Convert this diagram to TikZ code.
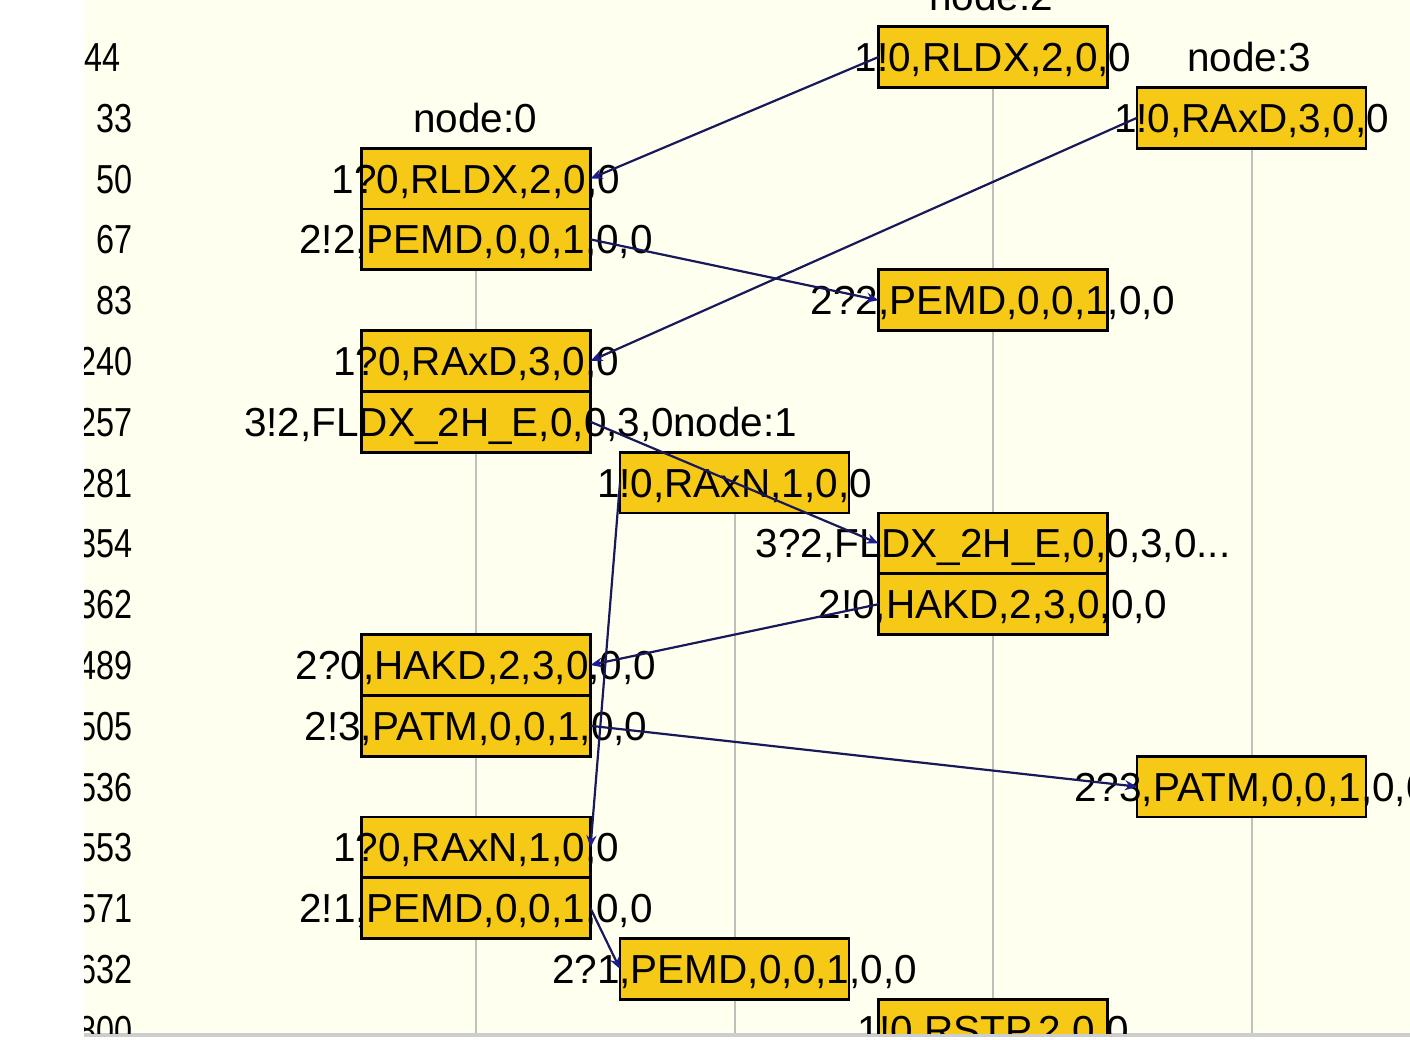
\documentclass[tikz,border=0pt]{standalone}
\usepackage{fontspec}
\setmainfont{Liberation Sans}
\newfontfamily\rowfont[FakeStretch=0.8]{Liberation Sans}
\usetikzlibrary{arrows.meta}

\definecolor{paper}{RGB}{255,255,240}
\definecolor{msgfill}{RGB}{246,201,22}
\definecolor{lifegray}{RGB}{192,192,186}
\definecolor{msgline}{RGB}{24,24,90}
\definecolor{msgtip}{RGB}{28,28,150}
\definecolor{edgegray}{RGB}{205,205,205}

% one message cell on a lifeline: box plus its centred caption
\newcommand\msgcell[4]{%
  \node[msgbox] (#1) at (#2,#3) {};
  \node[caption] (#1-t) at (#1.center) {#4};}

\begin{document}
\begin{tikzpicture}[x=1pt,y=-1pt,
  msgbox/.style={draw=black, line width=2.8pt, fill=msgfill,
    minimum width=229pt, minimum height=60.8pt, inner sep=0pt, outer sep=0pt},
  caption/.style={inner sep=0pt, text height=29pt, text depth=0pt,
    font=\fontsize{40.5}{40.5}\selectfont},
  rowno/.style={inner sep=0pt, text height=29pt, text depth=0pt, anchor=east,
    font=\rowfont\fontsize{40.5}{40.5}\selectfont},
  lifeline/.style={draw=lifegray, line width=2pt},
  signal/.style={draw=msgline, line width=2.2pt,
    -{Stealth[length=12pt,width=10pt,color=msgtip]}},
]
\useasboundingbox (0,0) rectangle (1410,1040);
\fill[white] (0,0) rectangle (1410,1040);
\fill[paper] (84,0) rectangle (1410,1033);
\fill[edgegray] (84,1033) rectangle (1410,1037);

\begin{scope}
\clip (84,0) rectangle (1410,1033);

% lifelines
\coordinate (l0-top) at (476,178.6);  \coordinate (l0-bot) at (476,1033);
\coordinate (l1-top) at (734.5,482.6); \coordinate (l1-bot) at (734.5,1033);
\coordinate (l2-top) at (993,57);     \coordinate (l2-bot) at (993,1033);
\coordinate (l3-top) at (1251.5,117.8); \coordinate (l3-bot) at (1251.5,1033);
\draw[lifeline] (l0-top) -- (l0-bot);
\draw[lifeline] (l1-top) -- (l1-bot);
\draw[lifeline] (l2-top) -- (l2-bot);
\draw[lifeline] (l3-top) -- (l3-bot);

% row numbers
\node[rowno] (r0)  at (121,57)     {44};
\node[rowno] (r1)  at (133,117.8)  {33};
\node[rowno] (r2)  at (133,178.6)  {50};
\node[rowno] (r3)  at (133,239.4)  {67};
\node[rowno] (r4)  at (133,300.2)  {83};
\node[rowno] (r5)  at (133,361)    {240};
\node[rowno] (r6)  at (133,421.8)  {257};
\node[rowno] (r7)  at (133,482.6)  {281};
\node[rowno] (r8)  at (133,543.4)  {354};
\node[rowno] (r9)  at (133,604.2)  {362};
\node[rowno] (r10) at (133,665)    {489};
\node[rowno] (r11) at (133,725.8)  {505};
\node[rowno] (r12) at (133,786.6)  {536};
\node[rowno] (r13) at (133,847.4)  {553};
\node[rowno] (r14) at (133,908.2)  {571};
\node[rowno] (r15) at (133,969)    {632};
\node[rowno] (r16) at (133,1029.8) {800};

% node:0
\msgcell{a2}{476}{178.6}{1?0,RLDX,2,0,0}
\msgcell{a3}{476}{239.4}{2!2,PEMD,0,0,1,0,0}
\msgcell{a5}{476}{361}{1?0,RAxD,3,0,0}
\msgcell{a6}{476}{421.8}{3!2,FLDX\_2H\_E,0,0,3,0...}
\msgcell{a10}{476}{665}{2?0,HAKD,2,3,0,0,0}
\msgcell{a11}{476}{725.8}{2!3,PATM,0,0,1,0,0}
\msgcell{a13}{476}{847.4}{1?0,RAxN,1,0,0}
\msgcell{a14}{476}{908.2}{2!1,PEMD,0,0,1,0,0}

% node:1
\msgcell{b7}{734.5}{482.6}{1!0,RAxN,1,0,0}
\msgcell{b15}{734.5}{969}{2?1,PEMD,0,0,1,0,0}

% node:2
\msgcell{c0}{993}{57}{1!0,RLDX,2,0,0}
\msgcell{c4}{993}{300.2}{2?2,PEMD,0,0,1,0,0}
\msgcell{c8}{993}{543.4}{3?2,FLDX\_2H\_E,0,0,3,0...}
\msgcell{c9}{993}{604.2}{2!0,HAKD,2,3,0,0,0}
\msgcell{c16}{993}{1029.8}{1!0,RSTP,2,0,0}

% node:3
\msgcell{d1}{1251.5}{117.8}{1!0,RAxD,3,0,0}
\msgcell{d12}{1251.5}{786.6}{2?3,PATM,0,0,1,0,0}

% lifeline titles
\node[caption] (h0) at (475,117.8) {node:0};
\node[caption] (h1) at (735,421.8) {node:1};
\node[caption] (h2) at (991,-3.8)  {node:2};
\node[caption] (h3) at (1249,57)   {node:3};

% messages
\draw[signal] (c0.west)  -- (a2.east);
\draw[signal] (a3.east)  -- (c4.west);
\draw[signal] (d1.west)  -- (a5.east);
\draw[signal] (a6.east)  -- (c8.west);
\draw[signal] (b7.west)  -- (a13.east);
\draw[signal] (c9.west)  -- (a10.east);
\draw[signal] (a11.east) -- (d12.west);
\draw[signal] (a14.east) -- (b15.west);
\end{scope}
\end{tikzpicture}
\end{document}
